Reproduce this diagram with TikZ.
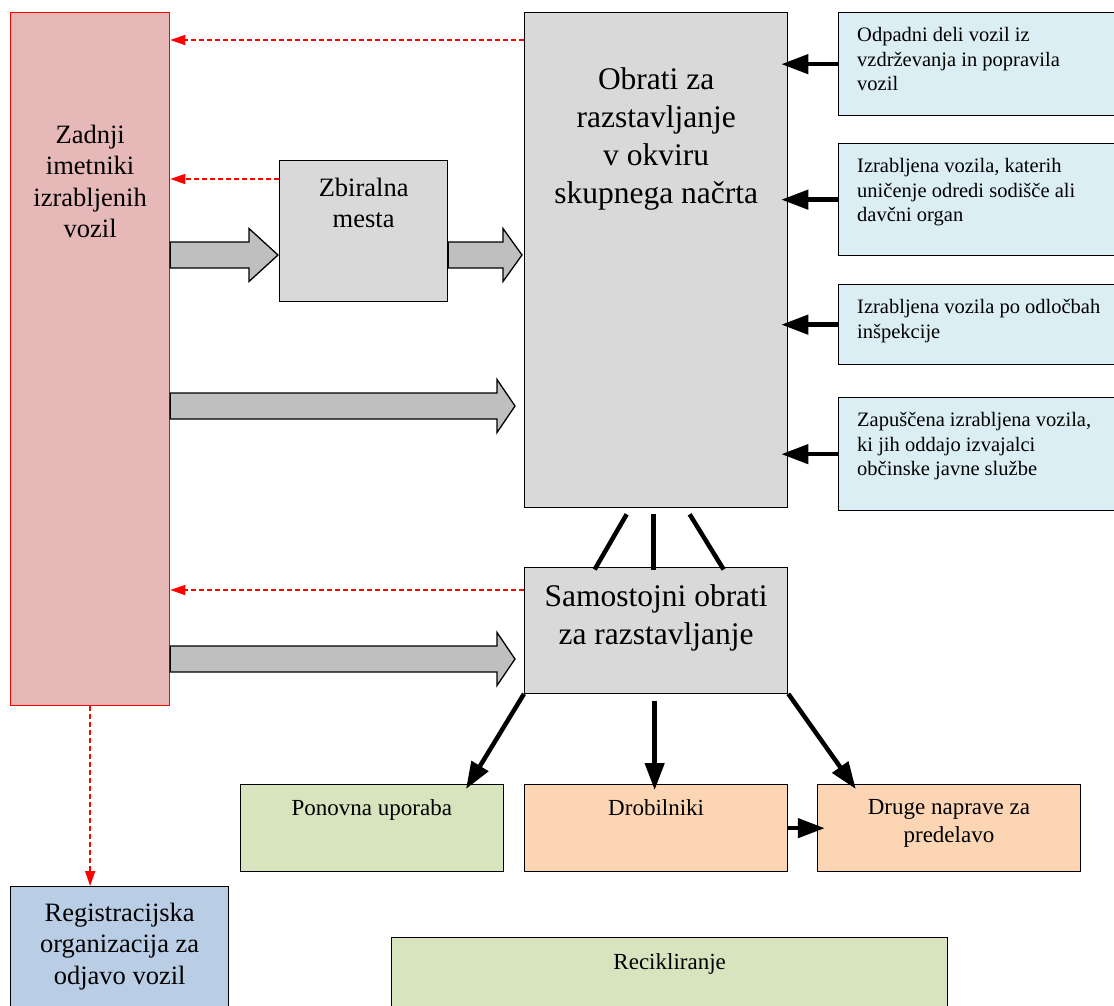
\documentclass[tikz,border=0pt]{standalone}
\usepackage{fontspec}
\setmainfont{Liberation Serif}
\usetikzlibrary{arrows.meta}
\usetikzlibrary{positioning, calc}

\definecolor{holderred}{HTML}{E6B9B8}
\definecolor{boxgray}{HTML}{D9D9D9}
\definecolor{arrowgray}{HTML}{BFBFBF}
\definecolor{srcblue}{HTML}{DBEEF4}
\definecolor{regblue}{HTML}{B9CDE5}
\definecolor{reusegreen}{HTML}{D7E4BD}
\definecolor{shredpeach}{HTML}{FCD5B5}
\definecolor{returnred}{HTML}{FF0000}

% fat gray arrow: [head length]{from}{to}
\newcommand{\fatarrow}[3][19]{%
    \draw[fatarr] ($(#2)+(0,-13)$) -- ($(#3)+(-#1,-13)$) -- ($(#3)+(-#1,-26.5)$) -- (#3)
        -- ($(#3)+(-#1,26.5)$) -- ($(#3)+(-#1,13)$) -- ($(#2)+(0,13)$) -- cycle;}

\begin{document}
\begin{tikzpicture}[x=1pt, y=-1pt,
    box/.style={rectangle, draw, line width=1.3pt, inner sep=0pt, anchor=north west},
    graybox/.style={box, fill=boxgray},
    srcbox/.style={box, fill=srcblue, minimum width=300pt},
    outbox/.style={box, minimum width=263pt, minimum height=87pt},
    bigtxt/.style={inner sep=0pt, align=center, font=\fontsize{31.5}{38}\selectfont},
    midtxt/.style={inner sep=0pt, align=center, font=\fontsize{26.5}{31.5}\selectfont},
    srctxt/.style={inner sep=0pt, align=left, font=\fontsize{20.5}{24.5}\selectfont},
    smalltxt/.style={inner sep=0pt, align=center, font=\fontsize{23}{28.5}\selectfont},
    returnarr/.style={color=returnred, line width=1.5pt, dash pattern=on 5pt off 3pt, -{Triangle[length=15pt,width=10pt]}},
    thickarr/.style={line width=4.5pt, -{Triangle[length=27pt,width=19pt]}},
    link/.style={line width=4.5pt},
    fatarr/.style={draw, line width=1.3pt, fill=arrowgray, line join=miter}
]

    \useasboundingbox (0,0) rectangle (1114,1005);
    \clip (0,0) rectangle (1114,1005);

    % Last holders
    \node[box, draw=red, fill=holderred, minimum width=159pt, minimum height=693pt] (imetniki) at (10,12) {};
    \node[midtxt, below=112.5pt of imetniki.north] (imetniki-t) {Zadnji\\imetniki\\izrabljenih\\vozil};

    % Collection points
    \node[graybox, minimum width=168pt, minimum height=141pt] (zbir) at (279,160) {};
    \node[midtxt, below=17.5pt of zbir.north] (zbir-t) {Zbiralna\\mesta};

    % Dismantling plants
    \node[graybox, minimum width=263pt, minimum height=495pt] (obrati) at (524,12) {};
    \node[bigtxt, below=55.5pt of obrati.north] (obrati-t) {Obrati za\\razstavljanje\\v okviru\\skupnega načrta};

    \node[graybox, minimum width=263pt, minimum height=126pt, anchor=north, below=58.2pt of obrati] (samostojni) {};
    \node[bigtxt, below=17.5pt of samostojni.north] (samostojni-t) {Samostojni obrati\\za razstavljanje};

    % Other sources
    \node[srcbox, minimum height=103pt] (odpadni) at (838,12) {};
    \node[srctxt, below right=15.5pt and 19pt of odpadni.north west] (odpadni-t) {Odpadni deli vozil iz\\vzdrževanja in popravila\\vozil};
    \node[srcbox, minimum height=112pt] (sodisce) at (838,143) {};
    \node[srctxt, below right=15.5pt and 19pt of sodisce.north west] (sodisce-t) {Izrabljena vozila, katerih\\uničenje odredi sodišče ali\\davčni organ};
    \node[srcbox, minimum height=80pt] (inspekcija) at (838,284) {};
    \node[srctxt, below right=15.5pt and 19pt of inspekcija.north west] (inspekcija-t) {Izrabljena vozila po odločbah\\inšpekcije};
    \node[srcbox, minimum height=113pt] (zapuscena) at (838,397) {};
    \node[srctxt, below right=15.5pt and 19pt of zapuscena.north west] (zapuscena-t) {Zapuščena izrabljena vozila,\\ki jih oddajo izvajalci\\občinske javne službe};

    % Outputs
    \node[outbox, fill=shredpeach, anchor=north, below=90.2pt of samostojni] (drobilniki) {};
    \node[smalltxt, below=15pt of drobilniki.north] (drobilniki-t) {Drobilniki};
    \node[outbox, fill=reusegreen, anchor=east, left=20pt of drobilniki] (ponovna) {};
    \node[smalltxt, below=15pt of ponovna.north] (ponovna-t) {Ponovna uporaba};
    \node[outbox, fill=shredpeach, anchor=west, right=28.5pt of drobilniki] (druge) {};
    \node[smalltxt, below=15pt of druge.north] (druge-t) {Druge naprave za\\predelavo};

    \node[box, fill=reusegreen, minimum width=556pt, minimum height=120pt] (recikl) at (391,937) {};
    \node[smalltxt, below=16pt of recikl.north] (recikl-t) {Recikliranje};

    % Registration
    \node[box, fill=regblue, minimum width=218pt, minimum height=150pt] (registr) at (10,886) {};
    \node[midtxt, below=16.5pt of registr.north] (registr-t) {Registracijska\\organizacija za\\odjavo vozil};

    % Dashed returns
    \draw[returnarr] ($(obrati.north west)+(0,28)$) -- ($(obrati.north west -| imetniki.east)+(0,28)$);
    \draw[returnarr] ($(zbir.north west)+(0,19)$) -- ($(zbir.north west -| imetniki.east)+(0,19)$);
    \draw[returnarr] ($(samostojni.north west)+(0,23.5)$) -- ($(samostojni.north west -| imetniki.east)+(0,23.5)$);
    \draw[returnarr] (imetniki.south) -- (imetniki.south |- registr.north);

    % Fat arrows
    \coordinate (f1a) at (imetniki.east |- 0,255);
    \coordinate (f1b) at ($(zbir.west |- 0,255)+(-1,0)$);
    \coordinate (f2a) at (zbir.east |- 0,255);
    \coordinate (f2b) at ($(obrati.west |- 0,255)+(-2,0)$);
    \coordinate (f3a) at (imetniki.east |- 0,406);
    \coordinate (f3b) at ($(obrati.west |- 0,406)+(-9,0)$);
    \coordinate (f4a) at (imetniki.east |- 0,659);
    \coordinate (f4b) at ($(samostojni.west |- 0,659)+(-9,0)$);
    \fatarrow[29]{f1a}{f1b}
    \fatarrow{f2a}{f2b}
    \fatarrow[18]{f3a}{f3b}
    \fatarrow[18]{f4a}{f4b}

    % Sources to plants
    \foreach \src in {odpadni, sodisce, inspekcija, zapuscena}
        \draw[thickarr] (\src.west) -- ($(\src.west -| obrati.east)+(-7,0)$);

    % Plants to standalone plants
    \draw[link] ($(obrati.south)+(-29.5,6)$) -- ($(samostojni.north)+(-61.5,3)$);
    \draw[link] ($(obrati.south)+(-2.5,6)$) -- ($(samostojni.north)+(-2.5,3)$);
    \draw[link] ($(obrati.south)+(33.5,6)$) -- ($(samostojni.north)+(67.5,3)$);

    % Standalone plants to outputs
    \draw[thickarr] (samostojni.south west) -- ($(ponovna.north east)+(-38,5)$);
    \draw[thickarr] ($(samostojni.south)+(-1.5,7)$) -- ($(drobilniki.north)+(-1.5,6)$);
    \draw[thickarr] (samostojni.south east) -- ($(druge.north west)+(39,5)$);
    \draw[thickarr] (drobilniki.east) -- ($(druge.west)+(8,0)$);

\end{tikzpicture}
\end{document}
